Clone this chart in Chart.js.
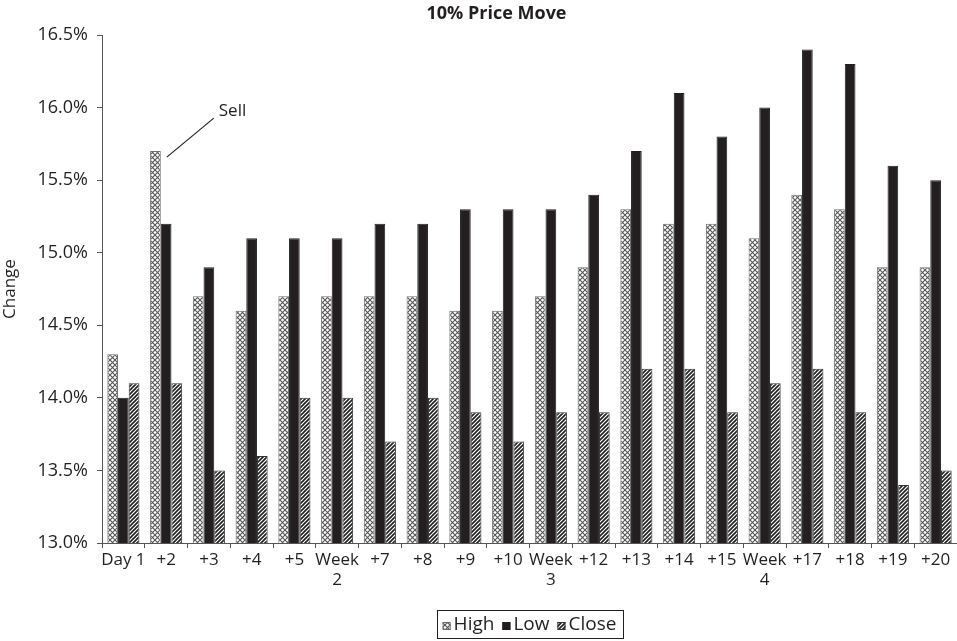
<!DOCTYPE html>
<html>
<head>
<meta charset="utf-8">
<script src="https://cdn.jsdelivr.net/npm/chart.js@4.4.1/dist/chart.umd.min.js"></script>
<style>
html,body{margin:0;padding:0;background:#fff;}
#wrap{width:957px;height:641px;position:relative;}
</style>
</head>
<body>
<div id="wrap"><canvas id="c" width="957" height="641"></canvas></div>
<script>
const categories = [["Day 1"], ["+2"], ["+3"], ["+4"], ["+5"], ["Week", "2"], ["+7"], ["+8"], ["+9"], ["+10"], ["Week", "3"], ["+12"], ["+13"], ["+14"], ["+15"], ["Week", "4"], ["+17"], ["+18"], ["+19"], ["+20"]];
const highValues  = [14.3, 15.7, 14.7, 14.6, 14.7, 14.7, 14.7, 14.7, 14.6, 14.6, 14.7, 14.9, 15.3, 15.2, 15.2, 15.1, 15.4, 15.3, 14.9, 14.9];
const lowValues   = [14.0, 15.2, 14.9, 15.1, 15.1, 15.1, 15.2, 15.2, 15.3, 15.3, 15.3, 15.4, 15.7, 16.1, 15.8, 16.0, 16.4, 16.3, 15.6, 15.5];
const closeValues = [14.1, 14.1, 13.5, 13.6, 14.0, 14.0, 13.7, 14.0, 13.9, 13.7, 13.9, 13.9, 14.2, 14.2, 13.9, 14.1, 14.2, 13.9, 13.4, 13.5];
const seriesNames = ["High", "Low", "Close"];
const chartTitle = "10% Price Move";
const yTitle = "Change";
const annotationText = "Sell";
const annotationIndex = 1;

const FONT = "'Open Sans', sans-serif";

function crossPattern() {
  const t = document.createElement('canvas'); t.width = 5; t.height = 5;
  const g = t.getContext('2d');
  g.fillStyle = '#fff'; g.fillRect(0,0,5,5);
  g.strokeStyle = '#555555'; g.lineWidth = 1.1;
  g.beginPath(); g.moveTo(0,0); g.lineTo(5,5); g.moveTo(5,0); g.lineTo(0,5); g.stroke();
  return document.getElementById('c').getContext('2d').createPattern(t, 'repeat');
}
function stripePattern() {
  const t = document.createElement('canvas'); t.width = 4; t.height = 4;
  const g = t.getContext('2d');
  g.fillStyle = '#fff'; g.fillRect(0,0,4,4);
  g.strokeStyle = '#1e1e1e'; g.lineWidth = 1.6;
  g.beginPath();
  g.moveTo(-1,5); g.lineTo(5,-1);
  g.moveTo(-3,3); g.lineTo(3,-3);
  g.moveTo(1,7); g.lineTo(7,1);
  g.stroke();
  return document.getElementById('c').getContext('2d').createPattern(t, 'repeat');
}
const fills = [crossPattern(), '#231f20', stripePattern()];
const borders = ['#6e6e6e', '#231f20', '#333333'];

const extras = {
  id: 'extras',
  afterDraw(chart) {
    const ctx = chart.ctx;
    const ca = chart.chartArea;
    ctx.save();
    // title
    ctx.fillStyle = '#231f20';
    ctx.font = "bold 18px " + FONT;
    ctx.textAlign = 'center'; ctx.textBaseline = 'middle';
    ctx.fillText(chartTitle, (ca.left + ca.right) / 2 - 33, 14);
    // annotation
    const el = chart.getDatasetMeta(0).data[annotationIndex];
    const right = el.x + el.width / 2;
    ctx.strokeStyle = '#231f20'; ctx.lineWidth = 1.2;
    ctx.beginPath();
    ctx.moveTo(right + 6, el.y + 6);
    ctx.lineTo(right + 53, el.y - 33);
    ctx.stroke();
    ctx.font = "17px " + FONT;
    ctx.textAlign = 'left'; ctx.textBaseline = 'alphabetic';
    ctx.fillText(annotationText, right + 58, el.y - 35);
    // legend
    ctx.font = "19px " + FONT;
    const icon = 8, gapIcon = 3, gapItem = 8, padX = 6;
    let total = padX * 2;
    const widths = seriesNames.map(n => ctx.measureText(n).width);
    widths.forEach((w, i) => { total += icon + gapIcon + w + (i < widths.length - 1 ? gapItem : 0); });
    const cx = (ca.left + ca.right) / 2;
    const boxTop = 610, boxH = 28;
    let x = cx - total / 2;
    ctx.strokeStyle = '#231f20'; ctx.lineWidth = 1;
    ctx.strokeRect(Math.round(x) + 0.5, boxTop + 0.5, Math.round(total), boxH);
    x += padX;
    const midY = boxTop + boxH / 2 + 1;
    seriesNames.forEach((n, i) => {
      ctx.fillStyle = fills[i];
      ctx.fillRect(x, midY - icon / 2 + 1, icon, icon);
      ctx.strokeStyle = borders[i];
      ctx.strokeRect(x + 0.5, midY - icon / 2 + 1.5, icon - 1, icon - 1);
      x += icon + gapIcon;
      ctx.fillStyle = '#231f20';
      ctx.textBaseline = 'middle';
      ctx.fillText(n, x, midY);
      x += widths[i] + gapItem;
    });
    ctx.restore();
  }
};

new Chart(document.getElementById('c'), {
  type: 'bar',
  data: {
    labels: categories,
    datasets: [
      { label: seriesNames[0], data: highValues, backgroundColor: fills[0], borderColor: borders[0], borderWidth: 1 },
      { label: seriesNames[1], data: lowValues, backgroundColor: fills[1], borderColor: borders[1], borderWidth: 1 },
      { label: seriesNames[2], data: closeValues, backgroundColor: fills[2], borderColor: borders[2], borderWidth: 1 }
    ]
  },
  options: {
    responsive: false,
    animation: false,
    layout: { padding: { top: 35, right: 0, bottom: 0, left: 0 } },
    plugins: { legend: { display: false }, title: { display: false }, tooltip: { enabled: false } },
    datasets: { bar: { categoryPercentage: 0.75, barPercentage: 1.0 } },
    scales: {
      x: {
        grid: { display: true, drawOnChartArea: false, drawTicks: true, tickLength: 5, color: '#555', offset: true },
        border: { display: true, color: '#555', width: 1 },
        ticks: { color: '#231f20', font: { family: FONT, size: 17 }, padding: 2, maxRotation: 0, autoSkip: false },
        afterFit(s) { s.height = 98; }
      },
      y: {
        min: 13, max: 16.5,
        grid: { display: true, drawOnChartArea: false, drawTicks: true, tickLength: 5, color: '#555' },
        border: { display: true, color: '#555', width: 1 },
        ticks: { stepSize: 0.5, color: '#231f20', font: { family: FONT, size: 18 }, padding: 9,
                 callback: v => v.toFixed(1) + '%' },
        title: { display: true, text: yTitle, color: '#231f20', font: { family: FONT, size: 17 }, padding: { top: 0, bottom: 0 } },
        afterFit(s) { s.width = 102; }
      }
    }
  },
  plugins: [extras]
});
</script>
</body>
</html>
